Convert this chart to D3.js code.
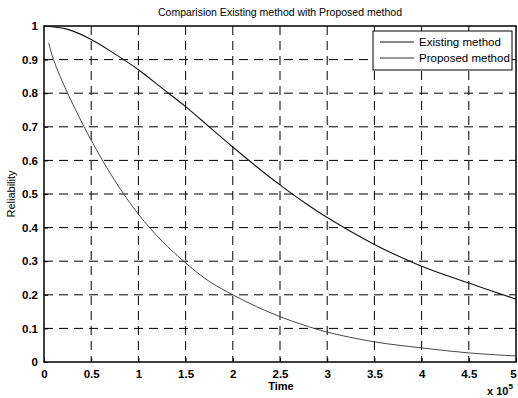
<!DOCTYPE html>
<html>
<head>
<meta charset="utf-8">
<script src="https://cdn.jsdelivr.net/npm/d3@7"></script>
<style>
  body { margin: 0; background: #fff; }
  svg text { font-family: "Liberation Sans", Arial, sans-serif; fill: #000; }
</style>
</head>
<body>
<div id="app"></div>
<script>
// time in units of 1e5
const existingT = [0, 0.25, 0.5, 0.75, 1, 1.25, 1.5, 1.75, 2, 2.25, 2.5, 2.75, 3, 3.5, 4, 4.5, 5];
const existingR = [1, 0.99, 0.96, 0.917, 0.87, 0.815, 0.76, 0.70, 0.64, 0.582, 0.527, 0.476, 0.43, 0.35, 0.285, 0.235, 0.187];

const proposedT = [0.05, 0.1, 0.25, 0.5, 0.75, 1, 1.25, 1.5, 1.75, 2, 2.25, 2.5, 2.75, 3, 3.5, 4, 4.5, 5];
const proposedR = [0.95, 0.9, 0.8, 0.66, 0.54, 0.44, 0.36, 0.295, 0.24, 0.2, 0.165, 0.135, 0.11, 0.089, 0.06, 0.042, 0.027, 0.018];

const xTicks = [0, 0.5, 1, 1.5, 2, 2.5, 3, 3.5, 4, 4.5, 5];
const yTicks = [0, 0.1, 0.2, 0.3, 0.4, 0.5, 0.6, 0.7, 0.8, 0.9, 1];
const seriesNames = ['Existing method', 'Proposed method'];

const W = 518, H = 398;
const margin = { top: 26, right: 2, bottom: 36, left: 44 };
const width = W - margin.left - margin.right,
	height = H - margin.top - margin.bottom;

const svg = d3.select('#app').append('svg')
	.attr('width', W)
	.attr('height', H);

const g = svg.append('g')
	.attr('transform', `translate(${margin.left},${margin.top})`);

const x = d3.scaleLinear().domain([0, 5]).range([0, width]);
const y = d3.scaleLinear().domain([0, 1]).range([height, 0]);

// grid
g.append('g').selectAll('line')
	.data(xTicks.slice(1, -1))
	.enter().append('line')
		.attr('x1', d => x(d)).attr('x2', d => x(d))
		.attr('y1', 0).attr('y2', height)
		.attr('stroke', '#000')
		.attr('stroke-width', 1)
		.attr('stroke-dasharray', '9,6');

g.append('g').selectAll('line')
	.data(yTicks.slice(1, -1))
	.enter().append('line')
		.attr('x1', 0).attr('x2', width)
		.attr('y1', d => y(d)).attr('y2', d => y(d))
		.attr('stroke', '#000')
		.attr('stroke-width', 1)
		.attr('stroke-dasharray', '9,6');

// axes, ticks pointing inward
const xAxis = g.append('g')
	.attr('transform', `translate(0,${height})`)
	.call(d3.axisBottom(x).tickValues(xTicks).tickSizeInner(-4).tickSizeOuter(0).tickPadding(8).tickFormat(d3.format('')));
const yAxis = g.append('g')
	.call(d3.axisLeft(y).tickValues(yTicks).tickSizeInner(-4).tickSizeOuter(0).tickPadding(6).tickFormat(d3.format('')));
[xAxis, yAxis].forEach(a => {
	a.select('.domain').remove();
	a.selectAll('text').attr('font-size', 11.5).attr('font-weight', 'bold')
		.attr('font-family', '"Liberation Sans", Arial, sans-serif');
	a.selectAll('line').attr('stroke', '#000');
});
// last x label sits at the window edge; nudge it in
xAxis.select('.tick:last-of-type text').attr('dx', -3);

// frame
g.append('rect')
	.attr('width', width).attr('height', height)
	.attr('fill', 'none').attr('stroke', '#000').attr('stroke-width', 1.5);

// curves
const line = d3.line().x(d => x(d[0])).y(d => y(d[1])).curve(d3.curveCatmullRom);
g.append('path')
	.datum(existingT.map((t, i) => [t, existingR[i]]))
	.attr('d', line)
	.attr('fill', 'none').attr('stroke', '#111').attr('stroke-width', 1.1);
g.append('path')
	.datum(proposedT.map((t, i) => [t, proposedR[i]]))
	.attr('d', line)
	.attr('fill', 'none').attr('stroke', '#333').attr('stroke-width', 0.9);

// legend
const lg = g.append('g').attr('transform', `translate(${width - 143},5)`);
lg.append('rect').attr('width', 139).attr('height', 39)
	.attr('fill', '#fff').attr('stroke', '#000').attr('stroke-width', 1);
seriesNames.forEach((name, i) => {
	lg.append('line').attr('x1', 7).attr('x2', 41)
		.attr('y1', 11 + i * 16).attr('y2', 11 + i * 16)
		.attr('stroke', i ? '#333' : '#111').attr('stroke-width', 1);
	lg.append('text').attr('x', 46).attr('y', 15 + i * 16)
		.attr('font-size', 11.5).text(name);
});

// labels
svg.append('text').attr('x', 280).attr('y', 16)
	.attr('text-anchor', 'middle').attr('font-size', 10.5).text('Comparision Existing method with Proposed method');
svg.append('text').attr('x', 281).attr('y', 390)
	.attr('text-anchor', 'middle').attr('font-size', 11).attr('font-weight', 'bold').text('Time');
svg.append('text')
	.attr('transform', `translate(15,${margin.top + height / 2}) rotate(-90)`)
	.attr('text-anchor', 'middle').attr('font-size', 11).text('Reliability');
const ex = svg.append('text').attr('x', 487).attr('y', 395).attr('font-size', 11).attr('font-weight', 'bold');
ex.append('tspan').text('x 10');
ex.append('tspan').attr('dy', -6).attr('font-size', 8).text('5');
</script>
</body>
</html>
